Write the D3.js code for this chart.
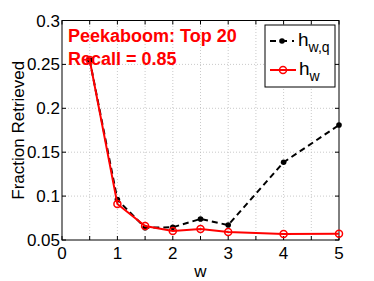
<!DOCTYPE html>
<html>
<head>
<meta charset="utf-8">
<script src="https://cdn.jsdelivr.net/npm/d3@7"></script>
<style>
  body { margin: 0; background: #fff; }
  svg text { font-family: "Liberation Sans", Arial, sans-serif; }
</style>
</head>
<body>
<div id="chart"></div>
<script>
// values
var wValues = [0.5, 1, 1.5, 2, 2.5, 3, 4, 5];
var hwq = [0.255, 0.096, 0.064, 0.0645, 0.074, 0.067, 0.1385, 0.181];
var hw = [0.255, 0.091, 0.066, 0.0603, 0.0625, 0.059, 0.0568, 0.057];
var xTicks = [0, 0.5, 1, 1.5, 2, 2.5, 3, 3.5, 4, 4.5, 5];
var xLabels = [0, 1, 2, 3, 4, 5];
var yTicks = [0.05, 0.1, 0.15, 0.2, 0.25, 0.3];

var width = 374, height = 281,
  margin = {top: 20.5, right: 35, bottom: 41, left: 62};

var svg = d3.select("#chart").append("svg")
  .attr("width", width)
  .attr("height", height);

var x = d3.scaleLinear().domain([0, 5]).range([margin.left, width - margin.right]);
var y = d3.scaleLinear().domain([0.05, 0.3]).range([height - margin.bottom, margin.top]);

var x0 = x.range()[0], x1 = x.range()[1], y0 = y.range()[0], y1 = y.range()[1];

// grid
svg.append("g").selectAll("line")
  .data(xTicks.filter(function (d) { return d > 0 && d < 5; }))
  .enter().append("line")
    .attr("x1", function (d) { return x(d); })
    .attr("x2", function (d) { return x(d); })
    .attr("y1", y0).attr("y2", y1)
    .attr("stroke", "#bbb").attr("stroke-width", 0.8)
    .attr("stroke-dasharray", "1,2");
svg.append("g").selectAll("line")
  .data(yTicks.filter(function (d) { return d > 0.05 && d < 0.3; }))
  .enter().append("line")
    .attr("y1", function (d) { return y(d); })
    .attr("y2", function (d) { return y(d); })
    .attr("x1", x0).attr("x2", x1)
    .attr("stroke", "#bbb").attr("stroke-width", 0.8)
    .attr("stroke-dasharray", "1,2");

// box
svg.append("rect")
  .attr("x", x0).attr("y", y1)
  .attr("width", x1 - x0).attr("height", y0 - y1)
  .attr("fill", "none").attr("stroke", "#000").attr("stroke-width", 1);

// inward ticks on all sides
var tk = 4;
xTicks.forEach(function (d) {
  svg.append("line").attr("x1", x(d)).attr("x2", x(d)).attr("y1", y0).attr("y2", y0 - tk).attr("stroke", "#000");
  svg.append("line").attr("x1", x(d)).attr("x2", x(d)).attr("y1", y1).attr("y2", y1 + tk).attr("stroke", "#000");
});
yTicks.forEach(function (d) {
  svg.append("line").attr("y1", y(d)).attr("y2", y(d)).attr("x1", x0).attr("x2", x0 + tk).attr("stroke", "#000");
  svg.append("line").attr("y1", y(d)).attr("y2", y(d)).attr("x1", x1).attr("x2", x1 - tk).attr("stroke", "#000");
});

// tick labels
svg.append("g").selectAll("text")
  .data(xLabels).enter().append("text")
    .attr("x", function (d) { return x(d); })
    .attr("y", y0 + 19)
    .attr("text-anchor", "middle")
    .attr("font-size", 17)
    .text(function (d) { return d; });
svg.append("g").selectAll("text")
  .data(yTicks).enter().append("text")
    .attr("x", x0 - 2)
    .attr("y", function (d) { return y(d) + 6; })
    .attr("text-anchor", "end")
    .attr("font-size", 17)
    .text(function (d) { return d; });

// axis labels
svg.append("text")
  .attr("x", x(2.5)).attr("y", 277)
  .attr("text-anchor", "middle").attr("font-size", 17)
  .text("w");
svg.append("text")
  .attr("transform", "translate(24," + ((y0 + y1) / 2) + ") rotate(-90)")
  .attr("text-anchor", "middle").attr("font-size", 17)
  .text("Fraction Retrieved");

var line = d3.line()
  .x(function (d) { return x(d[0]); })
  .y(function (d) { return y(d[1]); });

var blackData = wValues.map(function (w, i) { return [w, hwq[i]]; });
var redData = wValues.map(function (w, i) { return [w, hw[i]]; });

// black dashed series
svg.append("path").datum(blackData)
  .attr("d", line).attr("fill", "none")
  .attr("stroke", "#000").attr("stroke-width", 2)
  .attr("stroke-dasharray", "6,4");
svg.append("g").selectAll("circle")
  .data(blackData).enter().append("circle")
    .attr("cx", function (d) { return x(d[0]); })
    .attr("cy", function (d) { return y(d[1]); })
    .attr("r", 2.8).attr("fill", "#000");

// red series
svg.append("path").datum(redData)
  .attr("d", line).attr("fill", "none")
  .attr("stroke", "#f00").attr("stroke-width", 2);
svg.append("g").selectAll("circle")
  .data(redData).enter().append("circle")
    .attr("cx", function (d) { return x(d[0]); })
    .attr("cy", function (d) { return y(d[1]); })
    .attr("r", 3.5).attr("fill", "none")
    .attr("stroke", "#f00").attr("stroke-width", 1.5);

// annotation
svg.append("text")
  .attr("x", 68).attr("y", 41.5)
  .attr("fill", "#f00").attr("font-weight", "bold").attr("font-size", 18)
  .text("Peekaboom: Top 20");
svg.append("text")
  .attr("x", 68).attr("y", 65)
  .attr("fill", "#f00").attr("font-weight", "bold").attr("font-size", 18)
  .text("Recall = 0.85");

// legend
var lg = svg.append("g");
lg.append("rect")
  .attr("x", 265).attr("y", 25).attr("width", 70).attr("height", 62)
  .attr("fill", "#fff").attr("stroke", "#000").attr("stroke-width", 1);
lg.append("line")
  .attr("x1", 270).attr("x2", 294).attr("y1", 41).attr("y2", 41)
  .attr("stroke", "#000").attr("stroke-width", 2).attr("stroke-dasharray", "6,5");
lg.append("circle").attr("cx", 282).attr("cy", 41).attr("r", 2.8).attr("fill", "#000");
var t1 = lg.append("text").attr("x", 298).attr("y", 46).attr("font-size", 19);
t1.append("tspan").text("h");
t1.append("tspan").attr("dy", 6).attr("font-size", 14).text("w,q");
lg.append("line")
  .attr("x1", 270).attr("x2", 296).attr("y1", 70).attr("y2", 70)
  .attr("stroke", "#f00").attr("stroke-width", 2);
lg.append("circle").attr("cx", 283).attr("cy", 70).attr("r", 3.5)
  .attr("fill", "none").attr("stroke", "#f00").attr("stroke-width", 1.5);
var t2 = lg.append("text").attr("x", 299).attr("y", 75).attr("font-size", 19);
t2.append("tspan").text("h");
t2.append("tspan").attr("dy", 6).attr("font-size", 14).text("w");
</script>
</body>
</html>
